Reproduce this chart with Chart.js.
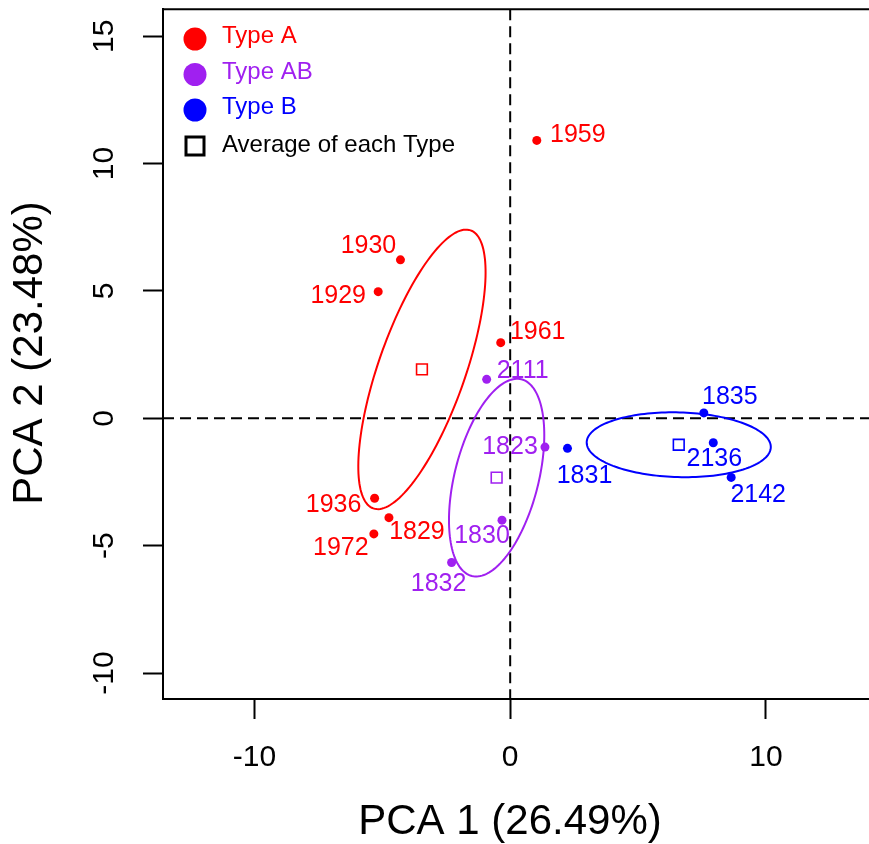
<!DOCTYPE html>
<html lang="en">
<head>
<meta charset="UTF-8">
<title>PCA</title>
<script src="https://cdn.jsdelivr.net/npm/chart.js"></script>
<style>
    html, body { margin: 0; padding: 0; background: #fff; overflow: hidden; }
    .wrap { position: relative; width: 900px; height: 844px; }
</style>
</head>
<body>
<div class="wrap"><canvas id="pca" width="900" height="844"></canvas></div>
<script>
    // values
    const typeALabels = ['1959', '1930', '1929', '1961', '1936', '1829', '1972'];
    const typeAX = [1.04, -4.29, -5.16, -0.37, -5.30, -4.74, -5.33];
    const typeAY = [10.91, 6.22, 4.97, 2.97, -3.14, -3.90, -4.54];

    const typeABLabels = ['2111', '1823', '1830', '1832'];
    const typeABX = [-0.92, 1.36, -0.32, -2.29];
    const typeABY = [1.53, -1.13, -4.00, -5.66];

    const typeBLabels = ['1831', '1835', '2136', '2142'];
    const typeBX = [2.24, 7.57, 7.94, 8.64];
    const typeBY = [-1.18, 0.21, -0.96, -2.32];

    const avgX = [-3.45, -0.53, 6.59];
    const avgY = [1.92, -2.33, -1.04];

    // ellipse: centre, semi axes, angle (deg) in data units
    const ellCX = [-3.45, -0.53, 6.59];
    const ellCY = [1.92, -2.33, -1.04];
    const ellA = [5.78, 3.98, 3.60];
    const ellB = [1.70, 1.64, 1.27];
    const ellAngle = [70.8, 75.9, -1.6];

    const legendNames = ['Type A', 'Type AB', 'Type B', 'Average of each Type'];
    const xTitle = 'PCA 1 (26.49%)';
    const yTitle = 'PCA 2 (23.48%)';

    const RED = '#ff0000', PURPLE = '#a020f0', BLUE = '#0000ff';
    const FONT = '"Liberation Sans", Arial, Helvetica, sans-serif';

    // label offsets from the point, pixels (dx, dy)
    const labelOffsets = [
        [[41, -5], [-32, -14], [-40, 4], [37, -11], [-41, 7], [28, 14], [-33, 14]],
        [[36, -8], [-35, 0], [-20, 16], [-13, 22]],
        [[17, 28], [26, -16], [1, 16], [27, 18]]
    ];

    function toPoints(xs, ys) {
        return xs.map((x, i) => ({ x: x, y: ys[i] }));
    }

    const extras = {
        id: 'extras',
        beforeDatasetsDraw(chart) {
            const ctx = chart.ctx, a = chart.chartArea;
            const xs = chart.scales.x, ys = chart.scales.y;
            ctx.save();
            ctx.beginPath();
            ctx.rect(a.left, a.top, a.right - a.left, a.bottom - a.top);
            ctx.clip();

            // dashed zero lines
            ctx.strokeStyle = '#000';
            ctx.lineWidth = 2;
            ctx.setLineDash([11, 6]);
            const x0 = xs.getPixelForValue(0), y0 = ys.getPixelForValue(0);
            ctx.beginPath();
            ctx.moveTo(x0, a.top); ctx.lineTo(x0, a.bottom);
            ctx.moveTo(a.left, y0); ctx.lineTo(a.right, y0);
            ctx.stroke();
            ctx.setLineDash([]);

            // ellipses
            const cols = [RED, PURPLE, BLUE];
            for (let e = 0; e < ellCX.length; e++) {
                const t = ellAngle[e] * Math.PI / 180;
                ctx.strokeStyle = cols[e];
                ctx.lineWidth = 2;
                ctx.beginPath();
                for (let k = 0; k <= 160; k++) {
                    const u = k / 160 * 2 * Math.PI;
                    const ex = ellA[e] * Math.cos(u), ey = ellB[e] * Math.sin(u);
                    const px = xs.getPixelForValue(ellCX[e] + ex * Math.cos(t) - ey * Math.sin(t));
                    const py = ys.getPixelForValue(ellCY[e] + ex * Math.sin(t) + ey * Math.cos(t));
                    if (k === 0) ctx.moveTo(px, py); else ctx.lineTo(px, py);
                }
                ctx.closePath();
                ctx.stroke();
            }
            ctx.restore();
        },
        afterDraw(chart) {
            const ctx = chart.ctx, a = chart.chartArea;
            const ys = chart.scales.y;
            ctx.save();

            // top border of the box
            ctx.strokeStyle = '#000';
            ctx.lineWidth = 2;
            ctx.beginPath();
            ctx.moveTo(a.left - 1, a.top);
            ctx.lineTo(a.right, a.top);
            ctx.stroke();

            // rotated y tick labels
            ctx.fillStyle = '#000';
            ctx.font = '30px ' + FONT;
            ctx.textAlign = 'center';
            ctx.textBaseline = 'middle';
            ys.ticks.forEach(t => {
                const py = ys.getPixelForValue(t.value);
                ctx.save();
                ctx.translate(105, py);
                ctx.rotate(-Math.PI / 2);
                ctx.fillText(String(t.value), 0, 0);
                ctx.restore();
            });

            // axis titles
            ctx.font = '42px ' + FONT;
            ctx.fillText(xTitle, 510, 822);
            ctx.save();
            ctx.translate(30, 353);
            ctx.rotate(-Math.PI / 2);
            ctx.fillText(yTitle, 0, 0);
            ctx.restore();

            // point labels
            const labelSets = [typeALabels, typeABLabels, typeBLabels];
            const cols = [RED, PURPLE, BLUE];
            ctx.font = '25px ' + FONT;
            labelSets.forEach((labels, d) => {
                const meta = chart.getDatasetMeta(d);
                ctx.fillStyle = cols[d];
                labels.forEach((lab, i) => {
                    const el = meta.data[i];
                    const off = labelOffsets[d][i];
                    ctx.fillText(lab, el.x + off[0], el.y + off[1]);
                });
            });

            // legend
            ctx.font = '24px ' + FONT;
            const rows = [39, 74.5, 110, 146];
            const legCols = [RED, PURPLE, BLUE, '#000'];
            ctx.textAlign = 'left';
            legendNames.forEach((name, i) => {
                if (i < 3) {
                    ctx.fillStyle = legCols[i];
                    ctx.beginPath();
                    ctx.arc(195, rows[i], 11.5, 0, 2 * Math.PI);
                    ctx.fill();
                } else {
                    ctx.strokeStyle = '#000';
                    ctx.lineWidth = 3;
                    ctx.strokeRect(186, rows[i] - 9, 18, 18);
                }
                ctx.fillStyle = legCols[i];
                ctx.fillText(name, 222, i < 3 ? rows[i] - 2.5 : rows[i] - 1);
            });
            ctx.restore();
        }
    };

    const axisGrid = {
        display: true,
        drawOnChartArea: false,
        drawTicks: true,
        tickLength: 20,
        tickWidth: 2,
        tickColor: '#000'
    };

    new Chart(document.getElementById('pca'), {
        type: 'scatter',
        data: {
            datasets: [
                { label: 'Type A', data: toPoints(typeAX, typeAY), backgroundColor: RED, borderWidth: 0, pointRadius: 4.5 },
                { label: 'Type AB', data: toPoints(typeABX, typeABY), backgroundColor: PURPLE, borderWidth: 0, pointRadius: 4.5 },
                { label: 'Type B', data: toPoints(typeBX, typeBY), backgroundColor: BLUE, borderWidth: 0, pointRadius: 4.5 },
                {
                    label: 'Average of each Type',
                    data: toPoints(avgX, avgY),
                    pointStyle: 'rect',
                    pointRadius: 7.6,
                    backgroundColor: 'rgba(0,0,0,0)',
                    borderColor: [RED, PURPLE, BLUE],
                    borderWidth: 1.6
                }
            ]
        },
        options: {
            responsive: false,
            animation: false,
            layout: { padding: { top: 8, left: 0, right: 0, bottom: 0 } },
            plugins: {
                legend: { display: false },
                tooltip: { enabled: false }
            },
            scales: {
                x: {
                    type: 'linear',
                    position: 'bottom',
                    min: -13.573,
                    max: 14.88,
                    ticks: {
                        stepSize: 10,
                        includeBounds: false,
                        color: '#000',
                        padding: 21,
                        font: { family: FONT, size: 30 }
                    },
                    grid: axisGrid,
                    border: { display: true, color: '#000', width: 2 },
                    afterFit: s => { s.height = 145; }
                },
                y: {
                    type: 'linear',
                    min: -11.02,
                    max: 16.06,
                    ticks: {
                        stepSize: 5,
                        includeBounds: false,
                        display: false
                    },
                    grid: axisGrid,
                    border: { display: true, color: '#000', width: 2 },
                    afterFit: s => { s.width = 163; }
                }
            }
        },
        plugins: [extras]
    });
</script>
</body>
</html>
